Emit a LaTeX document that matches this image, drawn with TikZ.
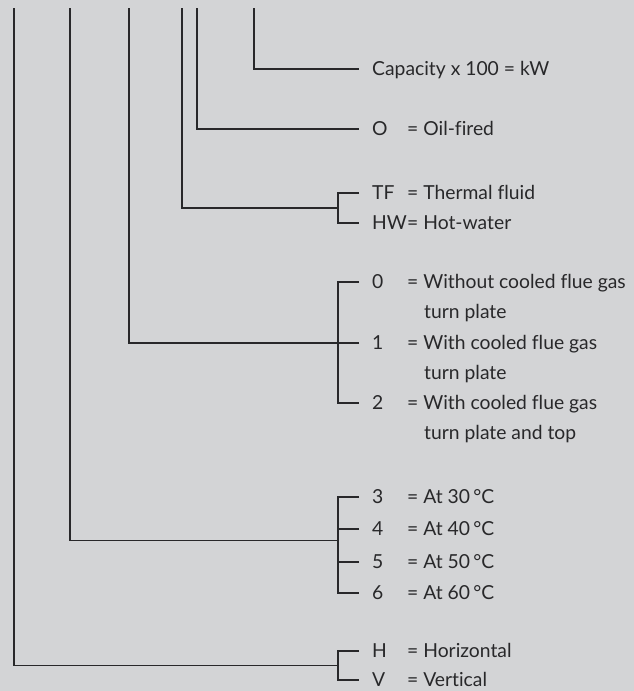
\documentclass[tikz,border=0pt]{standalone}
\usepackage{fontspec}
\setmainfont{Lato}[Ligatures=NoCommon]
\usetikzlibrary{positioning,calc}
\definecolor{panel}{RGB}{211,212,214}
\definecolor{ink}{RGB}{40,40,42}
\newcommand*{\keyfont}{\fontsize{19.3}{21}\selectfont}
\tikzset{
  code/.style={anchor=west,inner xsep=13pt,inner ysep=0pt,
               text height=13.6pt,text depth=0pt,font=\keyfont,text=ink},
  desc/.style={anchor=west,inner sep=0pt,
               text height=13.6pt,text depth=0pt,font=\keyfont,text=ink},
  lead/.style={line width=1.1pt,draw=ink}
}

\begin{document}
\begin{tikzpicture}[x=1pt,y=-1pt]
% Grey panel fixes the page
\fill[panel] (0,0) rectangle (634,691);
\useasboundingbox (0,0) rectangle (634,691);
% Upper ends of the six leads
\coordinate (lead1) at (14,8);
\coordinate (lead2) at (70,8);
\coordinate (lead3) at (129,8);
\coordinate (lead4) at (182,8);
\coordinate (lead5) at (197,8);
\coordinate (lead6) at (254,8);
% Capacity
\node [code] (cap) at (359,69) {Capacity x 100 = kW};
\draw [lead] (lead6) |- (cap.west);
% Fuel
\node [code] (oil) at (359,129) {O};
\node [desc] (oiltxt) at (407,129) {= Oil-fired};
\draw [lead] (lead5) |- (oil.west);
% Medium
\node [code] (tf) at (359,193) {TF};
\node [desc] (tftxt) at (407,193) {= Thermal fluid};
\node [code] (hw) at (359,223) {HW};
\node [desc] (hwtxt) at (407,223) {= Hot-water};
\draw [lead] (tf.west) -- ++(-21,0) |- (hw.west);
\draw [lead] (lead4) |- ($(tf.west)!.5!(hw.west)+(-21,0)$);
% Turn plate
\node [code] (tp0) at (359,282) {0};
\node [desc] (tp0txt) at (407,282) {= Without cooled flue gas};
\node [desc] (tp0b) at (424,312) {turn plate};
\node [code] (tp1) at (359,343) {1};
\node [desc] (tp1txt) at (407,343) {= With cooled flue gas};
\node [desc] (tp1b) at (424,373) {turn plate};
\node [code] (tp2) at (359,403) {2};
\node [desc] (tp2txt) at (407,403) {= With cooled flue gas};
\node [desc] (tp2b) at (424,433) {turn plate and top};
\draw [lead] (tp0.west) -- ++(-21,0) |- (tp2.west);
\draw [lead] (tp1.west) -- ++(-21,0);
\draw [lead] (lead3) |- (tp1.west);
% Temperature
\foreach \n/\y in {3/497,4/529,5/562,6/593}{
  \node [code] (t\n) at (359,\y) {\n};
  \node [desc] (t\n txt) at (407,\y) {= At \n0\,°C};
}
\draw [lead] (t3.west) -- ++(-21,0) |- (t6.west);
\draw [lead] (t4.west) -- ++(-21,0);
\draw [lead] (t5.west) -- ++(-21,0);
\draw [lead] (lead2) |- ($(t4.west)!.36!(t5.west)+(-21,0)$);
% Orientation
\node [code] (hor) at (359,651) {H};
\node [desc] (hortxt) at (407,651) {= Horizontal};
\node [code] (ver) at (359,680) {V};
\node [desc] (vertxt) at (407,680) {= Vertical};
\draw [lead] (hor.west) -- ++(-21,0) |- (ver.west);
\draw [lead] (lead1) |- ($(hor.west)!.5!(ver.west)+(-21,0)$);
\end{tikzpicture}
\end{document}
